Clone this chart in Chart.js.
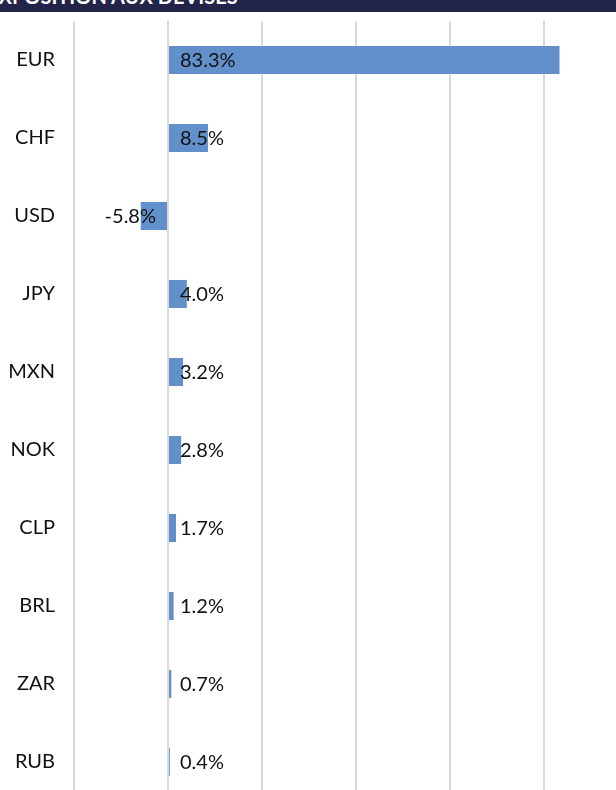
<!DOCTYPE html>
<html>
<head>
<meta charset="utf-8">
<script src="https://cdn.jsdelivr.net/npm/chart.js@4/dist/chart.umd.min.js"></script>
<style>
    html, body { margin: 0; padding: 0; background: #ffffff; overflow: hidden; }
    body { width: 616px; height: 790px; position: relative; }
    #banner {
        position: absolute; left: 0; top: 0; width: 616px; height: 12px;
        background: #22244a; overflow: hidden; z-index: 2;
    }
    #banner span {
        position: absolute; left: -13px; top: -14px;
        font-family: Lato, sans-serif; font-weight: bold; font-size: 20px;
        color: #ffffff; white-space: nowrap; line-height: 20px;
    }
    #chart { position: absolute; left: 0; top: 0; }
</style>
</head>
<body>
<div id="banner"><span>EXPOSITION AUX DEVISES</span></div>
<canvas id="chart" width="638" height="801"></canvas>
<script>
    var currencies = ['EUR', 'CHF', 'USD', 'JPY', 'MXN', 'NOK', 'CLP', 'BRL', 'ZAR', 'RUB'];
    var exposure = [83.3, 8.5, -5.8, 4.0, 3.2, 2.8, 1.7, 1.2, 0.7, 0.4];
    var axisMin = -20;
    var axisMax = 100;

    // labels anchored at the zero line, like Excel "inside base"
    var valueLabels = {
        id: 'valueLabels',
        afterDatasetsDraw: function (chart) {
            var ctx = chart.ctx;
            var xScale = chart.scales.x;
            var meta = chart.getDatasetMeta(0);
            var zero = xScale.getPixelForValue(0);
            ctx.save();
            ctx.font = '20px Lato';
            ctx.fillStyle = '#111111';
            ctx.textBaseline = 'middle';
            meta.data.forEach(function (bar, i) {
                var v = exposure[i];
                var txt = v.toFixed(1) + '%';
                if (v < 0) {
                    ctx.textAlign = 'right';
                    ctx.fillText(txt, zero - 12, bar.y + 1);
                } else {
                    ctx.textAlign = 'left';
                    ctx.fillText(txt, zero + 12, bar.y + 1);
                }
            });
            ctx.restore();
        }
    };

    new Chart(document.getElementById('chart').getContext('2d'), {
        type: 'bar',
        data: {
            labels: currencies,
            datasets: [{
                data: exposure,
                backgroundColor: '#6190cb',
                barPercentage: 0.72,
                categoryPercentage: 0.5
            }]
        },
        options: {
            indexAxis: 'y',
            responsive: false,
            animation: false,
            layout: { padding: { top: 21, right: 0, bottom: 0, left: 0 } },
            plugins: { legend: { display: false }, tooltip: { enabled: false } },
            scales: {
                x: {
                    min: axisMin,
                    max: axisMax,
                    afterFit: function (scale) { scale.height = 0; },
                    ticks: { stepSize: 20, display: false },
                    grid: { color: '#d9d9d9', lineWidth: 2, drawTicks: false },
                    border: { display: false }
                },
                y: {
                    afterFit: function (scale) {
                        scale.width = 74;
                        scale.paddingTop = 0;
                        scale.paddingBottom = 0;
                    },
                    ticks: { font: { family: 'Lato', size: 20 }, color: '#111111', padding: 19 },
                    grid: { display: false, drawTicks: false },
                    border: { display: false }
                }
            }
        },
        plugins: [valueLabels]
    });
</script>
</body>
</html>
